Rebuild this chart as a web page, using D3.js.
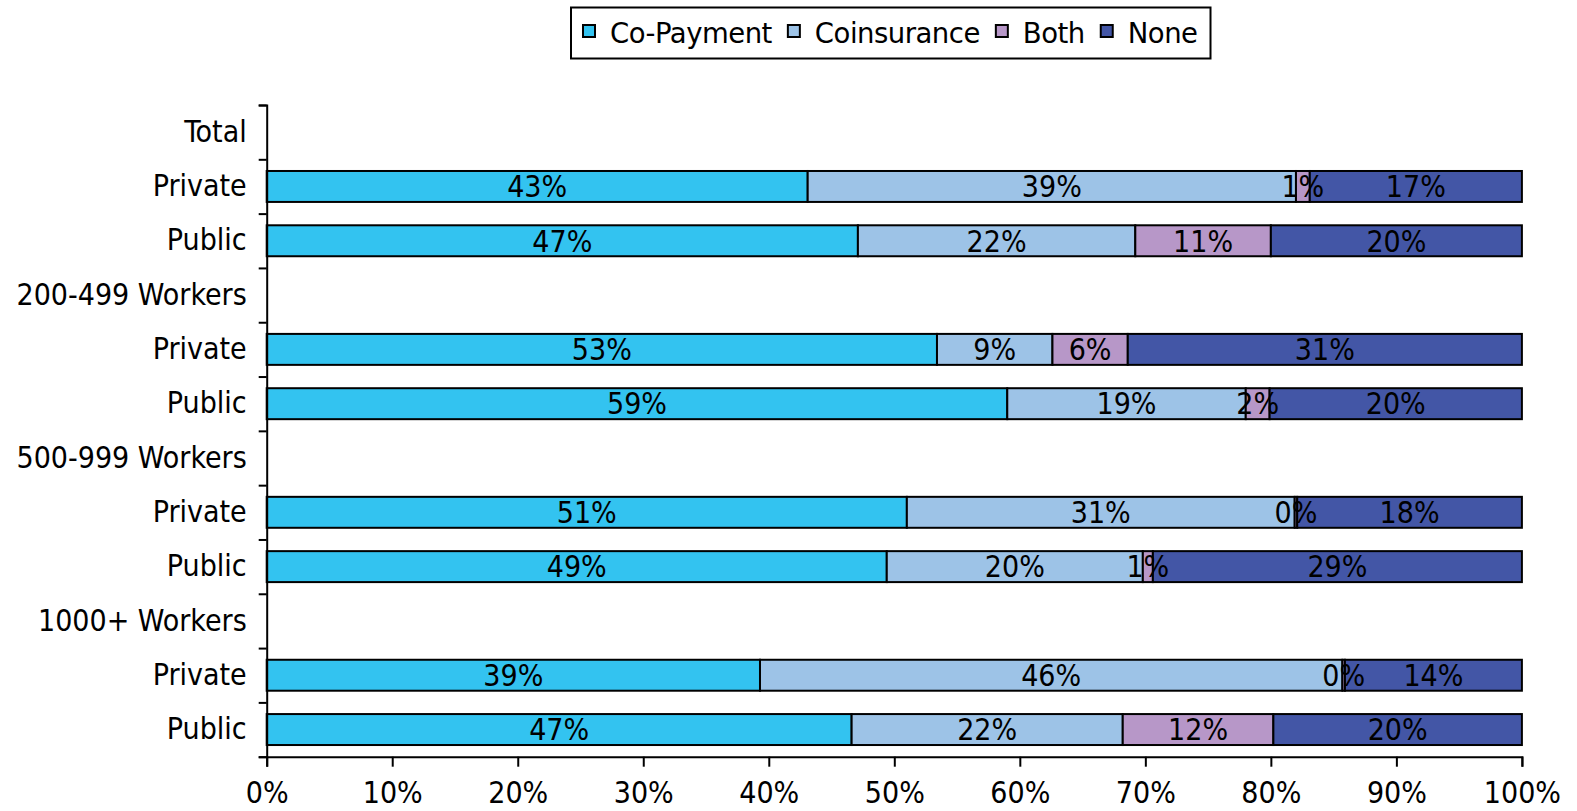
<!DOCTYPE html>
<html>
<head>
<meta charset="utf-8">
<script src="https://cdn.jsdelivr.net/npm/d3@7"></script>
<style>
  body { margin: 0; background: #fff; }
  svg text { font-family: "DejaVu Sans Condensed", "DejaVu Sans", sans-serif; font-stretch: condensed; fill: #000; }
  svg .legend text { font-family: "DejaVu Sans", sans-serif; font-stretch: normal; }
</style>
</head>
<body>
<script>
const w = 1577;
const h = 811;

// rows of the chart, top to bottom (group headers have no bar)
const rows = ["Total", "Private", "Public", "200-499 Workers", "Private", "Public",
    "500-999 Workers", "Private", "Public", "1000+ Workers", "Private", "Public"];
const series = ["Co-Payment", "Coinsurance", "Both", "None"];
const colors = ["#33c3f0", "#9dc3e7", "#b797c8", "#4356a6"];

const coPayment   = [null, 43.1, 47.1, null, 53.4, 59.0, null, 51.0, 49.4, null, 39.3, 46.6];
const coinsurance = [null, 38.9, 22.1, null, 9.2, 19.0, null, 30.9, 20.4, null, 46.4, 21.6];
const both        = [null, 1.1, 10.8, null, 6.0, 1.9, null, 0.2, 0.8, null, 0.2, 12.0];
const none        = [null, 16.9, 20.0, null, 31.4, 20.1, null, 17.9, 29.4, null, 14.1, 19.8];
const xTicks = [0, 10, 20, 30, 40, 50, 60, 70, 80, 90, 100];

const plotLeft = 266.7, plotRight = 1521.9, plotTop = 105, plotBottom = 756.7;

const table = rows.map(function (r, i) {
    return {
        idx: i,
        "Co-Payment": coPayment[i] || 0,
        "Coinsurance": coinsurance[i] || 0,
        "Both": both[i] || 0,
        "None": none[i] || 0,
        hasBar: coPayment[i] !== null
    };
});

const svg = d3.select("body").append("svg").attr("width", w).attr("height", h);

const xScale = d3.scaleLinear().domain([0, 100]).range([plotLeft, plotRight]);
const yScale = d3.scaleBand().domain(d3.range(rows.length)).range([plotTop, plotBottom]).padding(0);
const yEdges = d3.scaleLinear().domain([0, rows.length]).range([plotTop, plotBottom]);
const barH = yScale.bandwidth() * 0.57;

const stacked = d3.stack().keys(series)(table.filter(function (d) { return d.hasBar; }));

const layers = svg.selectAll("g.layer")
    .data(stacked)
    .enter()
    .append("g")
    .attr("class", "layer")
    .attr("fill", function (d, i) { return colors[i]; });

layers.selectAll("rect")
    .data(function (d) { return d; })
    .enter()
    .append("rect")
    .attr("x", function (d) { return xScale(d[0]); })
    .attr("y", function (d) { return yScale(d.data.idx) + (yScale.bandwidth() - barH) / 2; })
    .attr("width", function (d) { return xScale(d[1]) - xScale(d[0]); })
    .attr("height", barH)
    .attr("stroke", "#000")
    .attr("stroke-width", 2);

// value labels, drawn after all bars so they sit on top
svg.append("g").selectAll("g")
    .data(stacked)
    .enter()
    .append("g")
    .selectAll("text")
    .data(function (d) { return d; })
    .enter()
    .append("text")
    .attr("x", function (d) { return (xScale(d[0]) + xScale(d[1])) / 2; })
    .attr("y", function (d) { return yScale(d.data.idx) + yScale.bandwidth() / 2; })
    .attr("dy", "0.36em")
    .attr("text-anchor", "middle")
    .style("font-size", "30px")
    .text(function (d) { return Math.round(d[1] - d[0]) + "%"; });

// x axis
const xAxis = d3.axisBottom(xScale).tickValues(xTicks).tickSize(10).tickPadding(15)
    .tickFormat(function (d) { return d + "%"; });
svg.append("g")
    .attr("transform", "translate(0," + plotBottom + ")")
    .call(xAxis)
    .call(function (g) {
        g.selectAll("path, line").attr("stroke", "#000").attr("stroke-width", 2);
        g.selectAll("text").style("font-size", "30px").attr("fill", "#000");
    });

// y axis: tick marks at the band edges, labels at the band centres
svg.append("g")
    .attr("transform", "translate(" + plotLeft + ",0)")
    .call(d3.axisLeft(yEdges).tickValues(d3.range(rows.length + 1)).tickSize(8).tickFormat(""))
    .call(function (g) {
        g.selectAll("path, line").attr("stroke", "#000").attr("stroke-width", 2);
    });

svg.append("g")
    .attr("transform", "translate(" + plotLeft + ",0)")
    .call(d3.axisLeft(yScale).tickSize(0).tickPadding(20).tickFormat(function (i) { return rows[i]; }))
    .call(function (g) {
        g.select(".domain").remove();
        g.selectAll("text").style("font-size", "30px").attr("fill", "#000");
    });

// legend
const legend = svg.append("g").attr("class", "legend");
let lx = 583;
series.forEach(function (s, i) {
    legend.append("rect")
        .attr("x", lx).attr("y", 25).attr("width", 12).attr("height", 12)
        .attr("fill", colors[i]).attr("stroke", "#000").attr("stroke-width", 2);
    const t = legend.append("text")
        .attr("x", lx + 27).attr("y", 43.3)
        .style("font-size", "27.5px")
        .style("letter-spacing", "-0.5px")
        .text(s);
    lx += 27 + t.node().getComputedTextLength() + 16;
});
legend.insert("rect", ":first-child")
    .attr("x", 571).attr("y", 7.5)
    .attr("width", lx - 16 + 13 - 571)
    .attr("height", 51)
    .attr("fill", "#fff").attr("stroke", "#000").attr("stroke-width", 2);
</script>
</body>
</html>
